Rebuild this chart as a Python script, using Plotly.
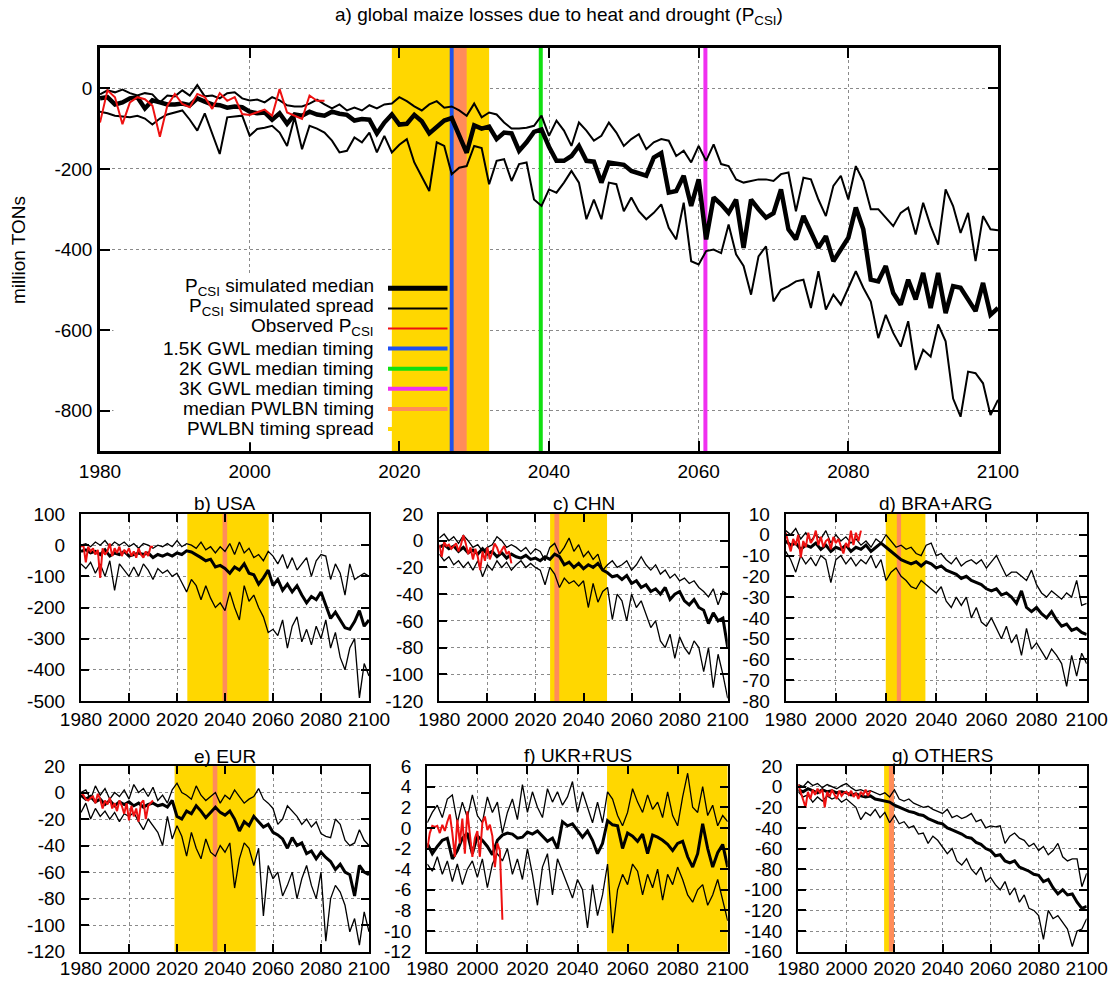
import plotly.graph_objects as go

W, H = 1114, 984
FONT = "Liberation Sans, Arial, Helvetica, sans-serif"

# ---------------- data ----------------
years_main = list(range(1980, 2101))
years_small = list(range(1980, 2101, 2))
years_obs = list(range(1980, 2011))

x_tick_vals = [1980, 2000, 2020, 2040, 2060, 2080, 2100]
x_tick_text = ["1980", "2000", "2020", "2040", "2060", "2080", "2100"]

# a) global
main_median = [-25, -22, -40, -35, -25, -22, -50, -30, -35, -40,
               -40, -38, -42, -25, -33, -40, -42, -48, -45, -47,
               -58, -62, -60, -78, -62, -88, -65, -68, -58, -65,
               -68, -58, -63, -66, -80, -76, -78, -112, -85, -65,
               -90, -88, -66, -82, -112, -96, -80, -74, -118, -160,
               -92, -100, -95, -126, -110, -112, -155, -134, -108, -102,
               -145, -180, -180, -168, -143, -180, -182, -234, -184, -186,
               -190, -205, -210, -217, -172, -161, -259, -255, -217, -292,
               -226, -375, -271, -288, -309, -276, -396, -276, -300, -321,
               -310, -251, -350, -375, -317, -358, -396, -367, -429, -400,
               -371, -296, -350, -475, -479, -441, -508, -537, -475, -524,
               -458, -545, -458, -558, -491, -495, -524, -553, -483, -562,
               -545]
main_upper = [-15, -5, -10, -3, -12, -18, -12, -15, -35, -18,
              -20, -5, -18, 8, -20, -18, -25, -12, -10, -25,
              -30, -28, -35, -22, -30, -42, -45, -45, -38, -28,
              -40, -50, -40, -55, -48, -55, -42, -50, -40, -38,
              -22, -32, -45, -55, -40, -32, -48, -45, -55, -68,
              -38, -72, -60, -65, -85, -100, -100, -98, -93, -68,
              -118, -80, -105, -143, -85, -105, -130, -118, -85, -110,
              -143, -126, -114, -151, -134, -126, -130, -168, -155, -184,
              -143, -180, -139, -188, -193, -226, -234, -230, -226, -226,
              -230, -213, -209, -305, -222, -226, -276, -317, -242, -217,
              -276, -193, -230, -300, -300, -321, -342, -309, -296, -363,
              -284, -342, -388, -251, -292, -359, -309, -429, -317, -350,
              -352]
main_lower = [-58, -62, -68, -70, -72, -68, -75, -90, -75, -65,
              -60, -55, -78, -105, -62, -110, -163, -72, -70, -68,
              -118, -101, -98, -93, -110, -143, -72, -151, -93, -100,
              -110, -130, -159, -155, -122, -134, -110, -159, -118, -159,
              -140, -126, -184, -220, -255, -134, -143, -213, -197, -193,
              -143, -148, -238, -180, -176, -230, -188, -184, -276, -292,
              -251, -259, -234, -205, -234, -325, -276, -325, -234, -238,
              -305, -271, -305, -325, -309, -288, -346, -375, -284, -429,
              -437, -404, -400, -409, -338, -412, -441, -512, -417, -392,
              -529, -500, -491, -479, -475, -545, -454, -549, -512, -537,
              -495, -454, -495, -529, -620, -562, -607, -641, -578, -699,
              -649, -666, -586, -628, -770, -815, -703, -707, -732, -811,
              -773]
main_obs = [-85, -5, -22, -89, -35, -22, -27, -43, -120, -43,
            -14, -39, -47, -14, -22, -51, -12, -31, -22, -64,
            -66, -60, -53, -68, -2, -60, -68, -76, -18, -31, -31]

# b) USA
usa_median = [-20, -15, -25, -20, -30, -15, -35, -25, -30, -20,
              -35, -30, -25, -30, -25, -40, -30, -35, -28, -35,
              -25, -30, -18, -22, -30, -40, -50, -45, -70, -65,
              -75, -90, -70, -80, -60, -90, -95, -125, -105, -80,
              -130, -110, -145, -125, -150, -130, -160, -185, -165, -175,
              -150, -190, -235, -215, -240, -265, -270, -245, -210, -260,
              -240]
usa_upper = [0, 5, -5, 10, 0, 15, -5, 10, 0, 10,
             -5, 5, -10, 5, 0, -10, 0, -5, 5, -5,
             15, -5, 5, 0, -10, 10, -15, -5, -25, -5,
             -20, 5, -30, 10, -25, -10, -40, -30, -50, -20,
             -35, -60, -30, -75, -40, -80, -60, -40, -100, -50,
             -30, -35, -110, -60, -90, -160, -60, -110, -100, -90,
             -100]
usa_lower = [-60, -75, -55, -90, -60, -100, -50, -145, -60, -80,
             -100, -70, -100, -60, -80, -110, -75, -90, -80, -100,
             -90, -120, -150, -110, -130, -175, -130, -170, -200, -185,
             -210, -150, -200, -240, -130, -180, -160, -200, -230, -280,
             -270, -290, -240, -330, -260, -230, -310, -270, -320, -260,
             -300, -240, -330, -280, -360, -400, -330, -300, -490, -380,
             -420]
usa_obs = [-5, 0, -55, -5, -20, -10, -30, -15, -105, -10,
           -30, -20, 5, -35, -10, -25, -5, -35, -15, -25,
           -10, -35, -20, -40, -10, -30, -40, -20, -35, -5, -5]

# c) CHN
chn_median = [-5, -3, -6, -4, -8, -5, -9, -7, -10, -6,
              -10, -8, -12, -9, -13, -10, -12, -13, -11, -14,
              -13, -15, -12, -14, -10, -12, -18, -16, -20, -17,
              -21, -18, -20, -17, -22, -24, -27, -26, -29, -26,
              -32, -30, -35, -33, -38, -36, -40, -35, -44, -40,
              -38, -45, -48, -44, -50, -52, -62, -54, -60, -58,
              -80]
chn_upper = [2, 5, 0, 3, -2, 4, 0, -5, -3, -8,
             -5, -3, 3, 0, -5, -3, -5, -8, -5, -10,
             -6, -8, -15, -5, -2, -10, -5, 2, -8, -3,
             -12, -8, -14, -10, -22, -18, -15, -20, -18, -15,
             -22, -18, -12, -18, -22, -18, -25, -22, -28, -25,
             -30, -28, -32, -30, -35, -38, -42, -36, -48, -38,
             -40]
chn_lower = [-10, -15, -12, -18, -15, -20, -16, -22, -15, -27,
             -18, -22, -15, -20, -16, -22, -18, -15, -20, -17,
             -20, -22, -33, -20, -25, -35, -28, -32, -30, -34,
             -30, -50, -32, -46, -38, -35, -59, -40, -45, -60,
             -40, -50, -45, -55, -65, -60, -75, -80, -70, -88,
             -72, -80, -85, -75, -80, -98, -80, -110, -85, -100,
             -118]
chn_obs = [-3, -12, -1, -4, -3, -6, -4, -2, -8, -3,
           4, -2, -10, -5, -14, -6, -12, -22, -8, -15,
           -5, -14, -9, -2, -5, -10, -7, -4, -10, -8, -17]

# d) BRA+ARG
bra_median = [-3, -5, -4, -7, -5, -6, -4, -7, -5, -8,
              -6, -7, -5, -8, -6, -7, -5, -8, -6, -4,
              -6, -8, -10, -12, -13, -14, -13, -15, -13, -14,
              -16, -15, -17, -18, -19, -21, -20, -22, -23, -24,
              -26, -27, -26, -29, -28, -30, -33, -27, -35, -37,
              -35, -38, -40, -37, -41, -44, -43, -46, -45, -47,
              -48]
bra_upper = [2, 0, 3, -2, 1, -3, 0, -2, 2, -4,
             0, -3, -1, -4, -2, -5, -3, -6, -2, -4,
             0, -3, -6, -5, -7, -6, -9, -10, -5, -4,
             -10, -9, -12, -14, -11, -15, -13, -12, -14, -12,
             -16, -13, -10, -15, -20, -18, -18, -20, -22, -17,
             -24, -28, -30, -27, -29, -31, -28, -30, -22, -34,
             -33]
bra_lower = [-8, -12, -18, -10, -14, -11, -15, -10, -12, -23,
             -12, -10, -14, -11, -15, -12, -14, -10, -16, -12,
             -22, -18, -16, -20, -22, -25, -26, -22, -24, -26,
             -28, -25, -32, -35, -30, -34, -30, -40, -35, -42,
             -44, -40, -45, -50, -44, -52, -48, -58, -45, -55,
             -52, -56, -60, -55, -58, -62, -73, -58, -68, -57,
             -62]
bra_obs = [1, -3, -8, -2, -5, 0, -11, -3, -6, 1,
           -4, -2, 2, -5, -1, -6, -3, -2, -7, -1,
           -4, -2, -6, -9, -4, -6, 2, -5, 1, -3, 2]

# e) EUR
eur_median = [-2, -5, -3, -7, -5, -9, -6, -10, -7, -9,
              -7, -10, -8, -11, -9, -8, -10, -9, -11, -6,
              -18, -20, -14, -16, -10, -14, -19, -15, -11, -15,
              -17, -14, -20, -29, -22, -25, -18, -22, -26, -24,
              -30, -32, -35, -42, -34, -40, -38, -46, -44, -50,
              -45, -49, -52, -58, -54, -60, -62, -78, -55, -60,
              -62]
eur_upper = [0, 2, -5, 5, -2, 3, -5, 0, -3, 2,
             -5, 6, 0, 3, -3, 4, -6, -2, -8, 2,
             7, 0, -2, -5, 5, -2, -6, -3, 0, -8,
             -2, -5, 2, -3, -8, -5, -3, 3, -5, -8,
             -12, -24, -20, -10, -14, -18, -24, -20, -26, -22,
             -31, -33, -34, -20, -24, -36, -40, -38, -28, -36,
             -40]
eur_lower = [-15, -8, -20, -12, -18, -14, -20, -15, -22, -16,
             -18, -15, -22, -28, -20, -25, -30, -40, -18, -35,
             -25, -33, -48, -30, -42, -50, -35, -45, -48, -40,
             -45, -38, -72, -50, -38, -42, -55, -42, -93, -55,
             -65, -60, -78, -70, -60, -80, -65, -55, -70, -80,
             -60, -112, -80, -70, -75, -85, -105, -95, -115, -90,
             -105]
eur_obs = [0, -2, -5, -6, -4, -3, -8, -1, -5, -12,
           -6, -9, -4, -12, -8, -14, -6, -10, -16, -8,
           -21, -10, -18, -12, -22, -8, -6, -20, -10, -8, -6]

# f) UKR+RUS
ukr_median = [-1.5, -2.5, -1.8, -1.2, -1.0, -3.0, -2.2, -1.0, -0.5, -2.5,
              -0.8, -1.2, -1.8, -2.6, -1.2, -0.7, -0.5, -0.6, -1.0, -0.9,
              -0.4, -0.6, -0.3, -0.8, -1.3, -1.0, -2.0, 0.6, 0.2, 0.4,
              -0.2, -0.9, -0.3, -1.2, -2.5, -1.5, 0.7, 0.3, 0.2, -2.0,
              -0.5, -0.8, -1.3, -0.6, -2.5, -0.7, -0.9, -1.2, -1.6, -2.2,
              -1.5, -1.3, -2.8, -3.8, -2.5, 0.4, -2.0, -3.8, -2.4, -1.6,
              -3.8]
ukr_upper = [0.5, 1.5, 2.2, 1.0, 2.8, 3.2, 0.5, 2.5, 1.0, 3.2,
             1.2, 0.5, 3.0, 1.5, 2.5, -0.5, 1.5, 2.8, 0.8, 4.2,
             1.5, 3.5, 2.0, 1.0, 3.8, 2.5, 3.5, 2.2, 3.0, 4.5,
             1.5, 3.5, 2.0, 0.5, 2.5, 0.5, 3.5, 2.8, 1.2, 0.2,
             1.5, 3.8, 2.5, 1.5, 3.2, 1.8, 2.5, 1.0, 3.5, 1.2,
             0.2, 3.0, 5.3, 2.0, 1.5, 4.0, 1.2, 2.2, 0.2, 1.2,
             0.6]
ukr_lower = [-3.5, -4.2, -2.8, -4.5, -3.2, -5.2, -3.5, -5.5, -4.0, -3.2,
             -4.8, -3.0, -5.8, -3.5, -2.5, -3.2, -2.0, -4.5, -3.0, -5.0,
             -2.0, -4.5, -7.5, -3.8, -2.5, -6.5, -3.0, -4.2, -5.5, -6.8,
             -5.0, -6.0, -9.7, -5.5, -8.5, -6.5, -3.5, -10.2, -6.0, -4.5,
             -5.5, -3.5, -4.2, -6.5, -4.5, -5.8, -4.0, -7.0, -4.5, -5.5,
             -3.8, -5.0, -6.5, -7.2, -6.0, -5.5, -7.5, -6.5, -5.0, -7.0,
             -9.0]
ukr_obs = [-2.0, -0.5, 0.2, 0.1, 0.2, -0.5, 0.3, -0.3, 0.6, 1.3,
           -0.5, -2.8, 0.8, -1.5, 0.9, -2.5, 1.6, -0.5, -2.8, -1.0,
           -0.3, -2.8, 0.5, 1.1, -0.2, 0.3, -0.8, -3.8, -1.5, -2.2, -8.9]

# g) OTHERS
oth_median = [-3, -5, -2, -4, -6, -3, -5, -4, -6, -5,
              -6, -8, -7, -9, -10, -9, -12, -13, -14, -15,
              -18, -20, -22, -24, -25, -27, -28, -31, -33, -35,
              -36, -40, -42, -44, -46, -49, -50, -54, -56, -60,
              -62, -67, -66, -72, -74, -72, -78, -80, -82, -85,
              -86, -92, -90, -98, -104, -100, -105, -104, -112, -118,
              -116]
oth_upper = [2, 0, 5, 1, 3, -1, 2, 0, -2, 1,
             3, -1, -4, -3, -5, -4, -6, -8, -6, -10,
             -3, -12, -14, -12, -16, -18, -20, -19, -22, -24,
             -26, -22, -30, -28, -31, -29, -26, -34, -32, -40,
             -38, -39, -38, -55, -48, -45, -50, -52, -58, -55,
             -62, -58, -66, -62, -55, -68, -72, -70, -70, -97,
             -84]
oth_lower = [-5, -10, -8, -15, -10, -14, -9, -12, -10, -15,
             -12, -16, -20, -32, -25, -28, -22, -30, -25, -35,
             -28, -36, -34, -40, -38, -46, -45, -55, -48, -52,
             -58, -65, -60, -72, -76, -70, -80, -85, -78, -92,
             -88, -95, -100, -92, -105, -98, -112, -105, -118, -120,
             -125, -148, -120, -128, -125, -132, -138, -155, -140, -138,
             -128]
oth_obs = [2, -5, -12, -20, -5, -12, -3, -8, -2, -6,
           -3, -20, -5, -10, -3, -8, -12, -4, -9, -6,
           -5, -8, -4, -10, -6, -12, -5, -8, -3, -9, -4]

# timing (years)
main_spread = [2019.0, 2032.0]
main_pwlbn = [2027.3, 2029.0]
gwl15_year = 2027.0
gwl2_year = 2038.9
gwl3_year = 2060.9

titles = ["b) USA", "c) CHN", "d) BRA+ARG", "e) EUR", "f) UKR+RUS", "g) OTHERS"]
spreads = [[2024.3, 2058.2], [2026.1, 2049.8], [2019.9, 2035.7],
           [2019.0, 2052.8], [2051.8, 2100.0], [2015.7, 2019.8]]
pwlbn = [[2039.0, 2040.9], [2027.9, 2029.9], [2024.3, 2026.0],
         [2034.9, 2036.8], None, [2017.7, 2019.8]]
y_ticks = [[100, 0, -100, -200, -300, -400, -500],
           [20, 0, -20, -40, -60, -80, -100, -120],
           [10, 0, -10, -20, -30, -40, -50, -60, -70, -80],
           [20, 0, -20, -40, -60, -80, -100, -120],
           [6, 4, 2, 0, -2, -4, -6, -8, -10, -12],
           [20, 0, -20, -40, -60, -80, -100, -120, -140, -160]]
main_y_ticks = [0, -200, -400, -600, -800]
medians = [usa_median, chn_median, bra_median, eur_median, ukr_median, oth_median]
uppers = [usa_upper, chn_upper, bra_upper, eur_upper, ukr_upper, oth_upper]
lowers = [usa_lower, chn_lower, bra_lower, eur_lower, ukr_lower, oth_lower]
observed = [usa_obs, chn_obs, bra_obs, eur_obs, ukr_obs, oth_obs]

# ---------------- styling ----------------
YELLOW = "#FFD700"
ORANGE = "#FF8C5A"
BLUE = "#2050F0"
GREEN = "#11E011"
MAGENTA = "#F030F0"
RED = "#EE1111"

main_box = (100.0, 998.0, 48.0, 451.0)
main_yrange = [-900, 100]
small_boxes = [(81.0, 369.0, 514.0, 701.0), (439.3, 727.7, 514.0, 701.0),
               (785.7, 1086.7, 514.0, 701.0), (81.0, 369.0, 766.0, 951.7),
               (427.3, 727.7, 766.0, 951.7), (798.3, 1086.7, 766.0, 951.7)]
small_yranges = [[-500, 100], [-120, 20], [-80, 10], [-120, 20], [-12, 6], [-160, 20]]
title_pos = [(225, 503), (583.5, 503), (936, 503), (225, 756), (577.5, 755), (942.5, 755)]

fig = go.Figure()
shapes = []
annotations = []


def fmt(v):
    return ("-" + str(abs(v))) if v < 0 else str(v)


def axis_layout(box, yrange, yticks, ticklen, xstand, ystand, lw):
    l, r, t, b = box
    common = dict(ticks="inside", ticklen=ticklen, tickwidth=1.5, tickcolor="black",
                  showline=True, linecolor="black", linewidth=lw, mirror="allticks",
                  showgrid=True, gridcolor="#8a8a8a", griddash="dot", gridwidth=1,
                  zeroline=False, fixedrange=True, automargin=False,
                  tickfont=dict(family=FONT, size=19, color="black"))
    xa = dict(domain=[l / W, r / W], range=[1980, 2100], tickmode="array",
              tickvals=x_tick_vals, ticktext=x_tick_text, ticklabelstandoff=xstand, **common)
    ya = dict(domain=[1 - b / H, 1 - t / H], range=yrange, tickmode="array",
              tickvals=yticks, ticktext=[fmt(v) for v in yticks], ticklabelstandoff=ystand, **common)
    return xa, ya


def refs(idx):
    return ("x", "y") if idx == 1 else (f"x{idx}", f"y{idx}")


def add_band(idx, x0, x1, yr, color):
    xa, ya = refs(idx)
    fig.add_trace(go.Scatter(x=[x0, x1, x1, x0, x0], y=[yr[0], yr[0], yr[1], yr[1], yr[0]],
                             mode="lines", fill="toself", fillcolor=color,
                             line=dict(width=0, color=color), xaxis=xa, yaxis=ya,
                             showlegend=False, hoverinfo="skip"))


def add_vline(idx, x, yr, color, width):
    xa, ya = refs(idx)
    fig.add_trace(go.Scatter(x=[x, x], y=[yr[0], yr[1]], mode="lines",
                             line=dict(color=color, width=width), xaxis=xa, yaxis=ya,
                             showlegend=False, hoverinfo="skip"))


def add_series(idx, xs, ys, color, width):
    xa, ya = refs(idx)
    fig.add_trace(go.Scatter(x=xs, y=ys, mode="lines", xaxis=xa, yaxis=ya,
                             line=dict(color=color, width=width), showlegend=False,
                             hoverinfo="skip"))


# ---- main panel ----
layout_axes = {}
xa, ya = axis_layout(main_box, main_yrange, main_y_ticks, 10, 1, 1, 2.5)
layout_axes["xaxis"] = dict(xa, anchor="y")
layout_axes["yaxis"] = dict(ya, anchor="x")

add_band(1, main_spread[0], main_spread[1], main_yrange, YELLOW)
add_band(1, main_pwlbn[0], main_pwlbn[1], main_yrange, ORANGE)
add_vline(1, gwl15_year, main_yrange, BLUE, 4)
add_vline(1, gwl2_year, main_yrange, GREEN, 4)
add_vline(1, gwl3_year, main_yrange, MAGENTA, 4)

add_series(1, years_main, main_upper, "black", 2)
add_series(1, years_main, main_lower, "black", 2)
add_series(1, years_main, main_median, "black", 4.5)
add_series(1, years_obs, main_obs, RED, 2)

bl, br, bt, bb = main_box
# opaque key background (left of the yellow band)
band_left_px = bl + (main_spread[0] - 1980) * (br - bl) / 120.0
shapes.append(dict(type="rect", xref="x domain", yref="y domain", x0=0.015,
                   x1=(band_left_px - bl) / (br - bl) - 0.001,
                   y0=0.022, y1=0.437, fillcolor="white", line=dict(width=0), layer="above"))

# legend (gnuplot style: right-aligned text, sample on right)
legend_items = [("P<sub>CSI</sub> simulated median", "black", 5),
                ("P<sub>CSI</sub> simulated spread", "black", 2),
                ("Observed P<sub>CSI</sub>", RED, 2),
                ("1.5K GWL median timing", BLUE, 4),
                ("2K GWL median timing", GREEN, 4),
                ("3K GWL median timing", MAGENTA, 4),
                ("median PWLBN timing", ORANGE, 4),
                ("PWLBN timing spread", YELLOW, 4)]
legend_rows_px = [288.3 + 20.1 * k for k in range(len(legend_items))]
text_right = (375 - bl) / (br - bl)
s0 = (388 - bl) / (br - bl)
s1 = (447.5 - bl) / (br - bl)
for (label, color, width), ypx in zip(legend_items, legend_rows_px):
    yd = (bb - ypx) / (bb - bt)
    shapes.append(dict(type="line", xref="x domain", yref="y domain", x0=s0, x1=s1,
                       y0=yd, y1=yd, line=dict(color=color, width=width), layer="above"))
    annotations.append(dict(text=label, xref="x domain", yref="y domain", x=text_right,
                            y=yd + (0.004 if "sub" in label else 0.0),
                            xanchor="right", yanchor="middle", showarrow=False, align="right",
                            borderpad=0,
                            font=dict(family=FONT, size=19, color="black")))

# ---- small panels ----
for i in range(6):
    idx = i + 2
    xstand = 0 if i < 3 else -2
    xa, ya = axis_layout(small_boxes[i], small_yranges[i], y_ticks[i], 8, xstand, 10, 2.2)
    layout_axes[f"xaxis{idx}"] = dict(xa, anchor=f"y{idx}")
    layout_axes[f"yaxis{idx}"] = dict(ya, anchor=f"x{idx}")
    add_band(idx, spreads[i][0], spreads[i][1], small_yranges[i], YELLOW)
    if pwlbn[i] is not None:
        add_band(idx, pwlbn[i][0], pwlbn[i][1], small_yranges[i], ORANGE)
    add_series(idx, years_small, uppers[i], "black", 1.3)
    add_series(idx, years_small, lowers[i], "black", 1.3)
    add_series(idx, years_small, medians[i], "black", 3)
    add_series(idx, years_obs, observed[i], RED, 2)
    tx, ty = title_pos[i]
    annotations.append(dict(text=titles[i], xref="paper", yref="paper", x=tx / W, y=1 - ty / H,
                            xanchor="center", yanchor="middle", showarrow=False,
                            font=dict(family=FONT, size=19, color="black")))

# titles
annotations.append(dict(text="a) global maize losses due to heat and drought (P<sub>CSI</sub>)",
                        xref="paper", yref="paper", x=559 / W, y=1 - 16 / H,
                        xanchor="center", yanchor="middle", showarrow=False,
                        font=dict(family=FONT, size=19, color="black")))
annotations.append(dict(text="million TONs", xref="paper", yref="paper", x=18 / W, y=1 - 250 / H,
                        xanchor="center", yanchor="middle", showarrow=False, textangle=-90,
                        font=dict(family=FONT, size=19, color="black")))

fig.update_layout(template="none", width=W, height=H, autosize=False,
                  margin=dict(l=0, r=0, t=0, b=0, pad=0),
                  paper_bgcolor="white", plot_bgcolor="white",
                  showlegend=False, shapes=shapes, annotations=annotations,
                  font=dict(family=FONT, size=19, color="black"),
                  **layout_axes)

fig.write_html("out.html", config={"displayModeBar": False},
               post_script="document.body.style.margin='0px';")
